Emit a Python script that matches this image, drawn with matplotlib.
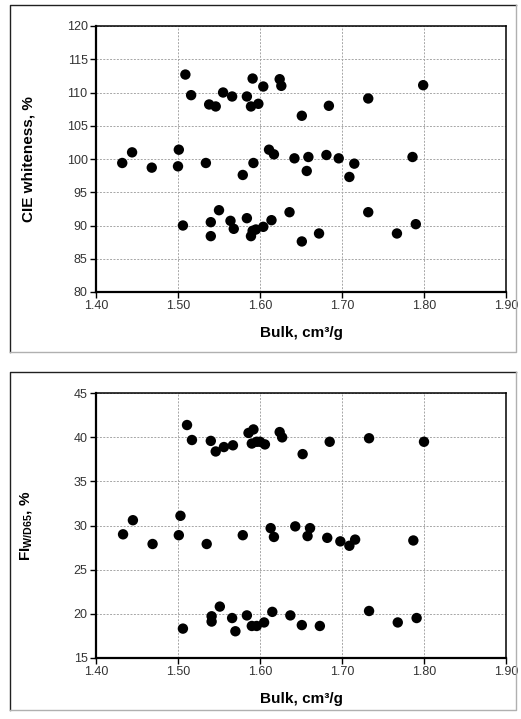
import matplotlib.pyplot as plt
from matplotlib.lines import Line2D

plt.rcParams['font.family'] = ['Liberation Sans', 'DejaVu Sans']
plt.rcParams['mathtext.fontset'] = 'custom'
plt.rcParams['mathtext.rm'] = 'Liberation Sans'
plt.rcParams['mathtext.bf'] = 'Liberation Sans:bold'

# CIE whiteness vs bulk
cie_bulk = [1.509, 1.516, 1.538, 1.546, 1.555, 1.566, 1.584, 1.591, 1.589, 1.598,
            1.604, 1.624, 1.626, 1.651, 1.684, 1.732, 1.799,
            1.432, 1.444, 1.468, 1.500, 1.501, 1.534, 1.579, 1.592, 1.611, 1.617,
            1.642, 1.659, 1.657, 1.681, 1.696, 1.709, 1.715, 1.786,
            1.506, 1.540, 1.540, 1.550, 1.564, 1.568, 1.584, 1.589, 1.591, 1.595,
            1.604, 1.614, 1.636, 1.651, 1.672, 1.732, 1.767, 1.790]
cie_white = [112.7, 109.6, 108.2, 107.9, 110.0, 109.4, 109.4, 112.1, 107.9, 108.3,
             110.9, 112.0, 111.0, 106.5, 108.0, 109.1, 111.1,
             99.4, 101.0, 98.7, 98.9, 101.4, 99.4, 97.6, 99.4, 101.4, 100.7,
             100.1, 100.3, 98.2, 100.6, 100.1, 97.3, 99.3, 100.3,
             90.0, 90.5, 88.4, 92.3, 90.7, 89.5, 91.1, 88.4, 89.2, 89.4,
             89.8, 90.8, 92.0, 87.6, 88.8, 92.0, 88.8, 90.2]

# fluorescence index vs bulk
fi_bulk = [1.511, 1.517, 1.540, 1.546, 1.556, 1.567, 1.586, 1.592, 1.590, 1.596,
           1.600, 1.606, 1.624, 1.627, 1.652, 1.685, 1.733, 1.800,
           1.433, 1.445, 1.469, 1.501, 1.503, 1.535, 1.579, 1.613, 1.617,
           1.643, 1.661, 1.658, 1.682, 1.698, 1.709, 1.716, 1.787,
           1.506, 1.541, 1.541, 1.551, 1.566, 1.570, 1.584, 1.590, 1.596,
           1.605, 1.615, 1.637, 1.651, 1.673, 1.733, 1.768, 1.791]
fi_val = [41.4, 39.7, 39.6, 38.4, 38.9, 39.1, 40.5, 40.9, 39.3, 39.5,
          39.5, 39.2, 40.6, 40.0, 38.1, 39.5, 39.9, 39.5,
          29.0, 30.6, 27.9, 28.9, 31.1, 27.9, 28.9, 29.7, 28.7,
          29.9, 29.7, 28.8, 28.6, 28.2, 27.7, 28.4, 28.3,
          18.3, 19.7, 19.1, 20.8, 19.5, 18.0, 19.8, 18.6, 18.6,
          19.0, 20.2, 19.8, 18.7, 18.6, 20.3, 19.0, 19.5]

x_ticks = [1.40, 1.50, 1.60, 1.70, 1.80, 1.90]
cie_ticks = [80, 85, 90, 95, 100, 105, 110, 115, 120]
fi_ticks = [15, 20, 25, 30, 35, 40, 45]

W, H = 521, 719
fig = plt.figure(figsize=(W / 100, H / 100), dpi=100)


def frame(top, bottom, left=10, right=516):
    # panel border: dark on the left/top, light on the right/bottom
    x0, x1 = left / W, right / W
    y0, y1 = 1 - bottom / H, 1 - top / H
    fig.add_artist(Line2D([x0, x0, x1], [y0, y1, y1], color='#202020', lw=1.0))
    fig.add_artist(Line2D([x1, x1, x0], [y1, y0, y0], color='#b0b0b0', lw=1.0))


def panel(rect, xs, ys, yticks, ylabel, ylab_x):
    ax = fig.add_axes(rect)
    ax.scatter(xs, ys, s=56, color='black', edgecolors='none', zorder=3)
    ax.set_xlim(x_ticks[0], x_ticks[-1])
    ax.set_ylim(yticks[0], yticks[-1])
    ax.set_xticks(x_ticks)
    ax.set_xticklabels(['%.2f' % t for t in x_ticks])
    ax.set_yticks(yticks)
    ax.grid(True, color='#a6a6a6', linestyle=(0, (2, 1.5)), linewidth=0.7)
    ax.set_axisbelow(True)
    for side in ['left', 'bottom']:
        ax.spines[side].set_linewidth(1.6)
    for side in ['top', 'right']:
        ax.spines[side].set_linewidth(1.1)
    ax.tick_params(direction='out', length=4, width=1.0, labelsize=9,
                   labelcolor='#333333', pad=2)
    ax.set_xlabel('Bulk, cm³/g', fontsize=11, fontweight='bold', labelpad=10)
    ax.set_ylabel(ylabel, fontsize=11, fontweight='bold')
    ax.yaxis.set_label_coords(ylab_x, 0.5)
    return ax


frame(5, 352)
frame(372, 710)

panel([96 / W, 1 - 292 / H, 410 / W, 266 / H], cie_bulk, cie_white,
      cie_ticks, 'CIE whiteness, %', -0.148)
panel([96 / W, 1 - 657.7 / H, 410 / W, 264.4 / H], fi_bulk, fi_val,
      fi_ticks, r'$\mathbf{FI_{W/D65}}$, %', -0.152)

fig.savefig('out.png', dpi=100)
